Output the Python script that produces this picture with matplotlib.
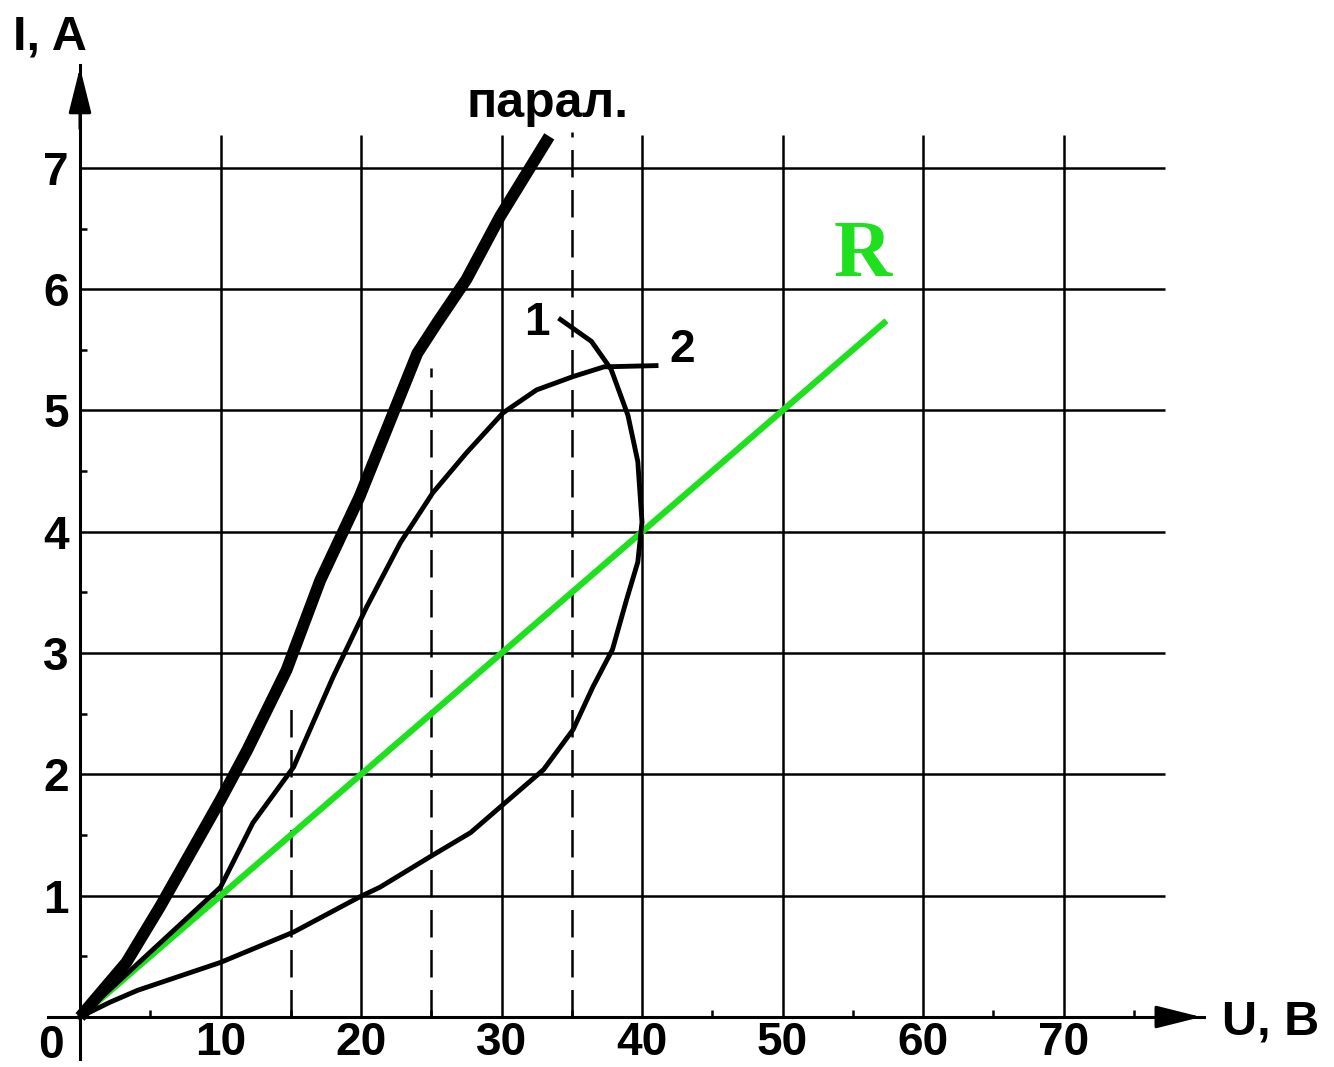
import matplotlib
matplotlib.use('Agg')
import matplotlib.pyplot as plt

# I-U characteristics (U in volts, I in amperes)
u_par = [0, 3.3, 5.7, 8.0, 10, 11.9, 14.7, 17.1, 19.9, 22.3, 24, 25.4,
         27.5, 29.9, 33.4]
i_par = [0, 0.45, 0.91, 1.38, 1.79, 2.2, 2.86, 3.6, 4.29, 4.98, 5.47, 5.72,
         6.08, 6.6, 7.26]

u_1 = [0, 2.1, 4.1, 10, 15.2, 19.9, 21.35, 24.9, 27.8, 29.9, 31.3, 33,
       35.1, 36.5, 37.9, 38.9, 39.7, 40, 39.7, 39, 37.8, 36.4, 34.2]
i_1 = [0, 0.12, 0.22, 0.45, 0.7, 0.99, 1.07, 1.32, 1.52, 1.73, 1.87, 2.04,
       2.37, 2.72, 3.03, 3.44, 3.75, 4.08, 4.58, 4.96, 5.34, 5.57, 5.75]

u_2 = [0, 10, 12.3, 15.2, 18, 20.4, 22.8, 25.1, 27.5, 30.1, 32.5, 35.1,
       37.3, 41]
i_2 = [0, 1.07, 1.6, 2.06, 2.8, 3.38, 3.91, 4.32, 4.65, 4.98, 5.17, 5.28,
       5.36, 5.37]

u_r = [0, 57.4]
i_r = [0, 5.74]

dash_u = [15, 25, 35]
dash_top = [2.6, 5.35, 7.3]

x_ticks = [10, 20, 30, 40, 50, 60, 70]
y_ticks = [1, 2, 3, 4, 5, 6, 7]

plt.rcParams['font.family'] = ['Liberation Sans', 'DejaVu Sans']
plt.rcParams['font.weight'] = 'bold'

W, H = 1334, 1067
fig = plt.figure(figsize=(W / 100, H / 100), dpi=100)

# pixel geometry of the reference: origin and scale
x0_px, y0_px = 80, 1017
px_per_u, px_per_i = 14.05, 121.3
u_min, u_max = -2.3, 80
i_min, i_max = -0.35, 7.85
left = (x0_px + u_min * px_per_u) / W
width = (u_max - u_min) * px_per_u / W
bottom = (H - (y0_px - i_min * px_per_i)) / H
height = (i_max - i_min) * px_per_i / H
ax = fig.add_axes([left, bottom, width, height])
ax.set_xlim(u_min, u_max)
ax.set_ylim(i_min, i_max)
ax.patch.set_alpha(0)

for s in ['top', 'right']:
    ax.spines[s].set_visible(False)
for s in ['left', 'bottom']:
    ax.spines[s].set_position(('data', 0))
    ax.spines[s].set_linewidth(2.2)

ax.set_xticks(x_ticks)
ax.set_xticklabels([str(v) for v in x_ticks])
ax.set_yticks(y_ticks)
ax.set_yticklabels([str(v) for v in y_ticks])
ax.set_xticks([v + 5 for v in [0] + x_ticks], minor=True)
ax.set_yticks([v - 0.5 for v in y_ticks], minor=True)
ax.tick_params(which='major', length=0, labelsize=33)
ax.tick_params(axis='x', which='major', pad=3)
ax.tick_params(axis='y', which='major', pad=8)
ax.tick_params(which='minor', length=5, width=1.8, direction='in')

# grid
ax.vlines(x_ticks, 0, 7.27, color='black', lw=1.8)
ax.hlines(y_ticks, 0, 77.2, color='black', lw=1.8)
ax.vlines(dash_u, 0, dash_top, color='black', lw=1.8, linestyles=(0, (11, 5)))

# curves
ax.plot(u_r, i_r, color='#1fe01f', lw=4.5, solid_capstyle='butt', zorder=4)
ax.plot(u_par, i_par, color='black', lw=8.5, solid_capstyle='butt',
        solid_joinstyle='round', zorder=5)
ax.plot(u_1, i_1, color='black', lw=3.5, solid_joinstyle='round', zorder=5)
ax.plot(u_2, i_2, color='black', lw=3.5, solid_joinstyle='round', zorder=5)

# axis arrows
arrow = dict(arrowstyle='-|>,head_length=1.4,head_width=0.35',
             color='black', lw=2.2, mutation_scale=20)
ax.annotate('', xy=(0, i_max), xytext=(0, 7.3), arrowprops=arrow)
ax.annotate('', xy=(u_max, 0), xytext=(76.5, 0), arrowprops=arrow)

# labels
ax.text(-2.1, -0.24, '0', fontsize=33, ha='center', va='center')
ax.text(-4.77, 8.08, 'I, A', fontsize=35, ha='left', va='center', clip_on=False)
ax.text(81.3, -0.04, 'U, B', fontsize=35, ha='left', va='center', clip_on=False)
ax.text(27.5, 7.42, 'парал.', fontsize=36, ha='left', va='baseline')
ax.text(55.7, 6.27, 'R', fontsize=58, color='#1fe01f', fontweight='bold',
        family='Liberation Serif', ha='center', va='center')
ax.text(32.5, 5.72, '1', fontsize=33, ha='center', va='center')
ax.text(42.85, 5.5, '2', fontsize=33, ha='center', va='center')

fig.savefig('out.png', dpi=100)
